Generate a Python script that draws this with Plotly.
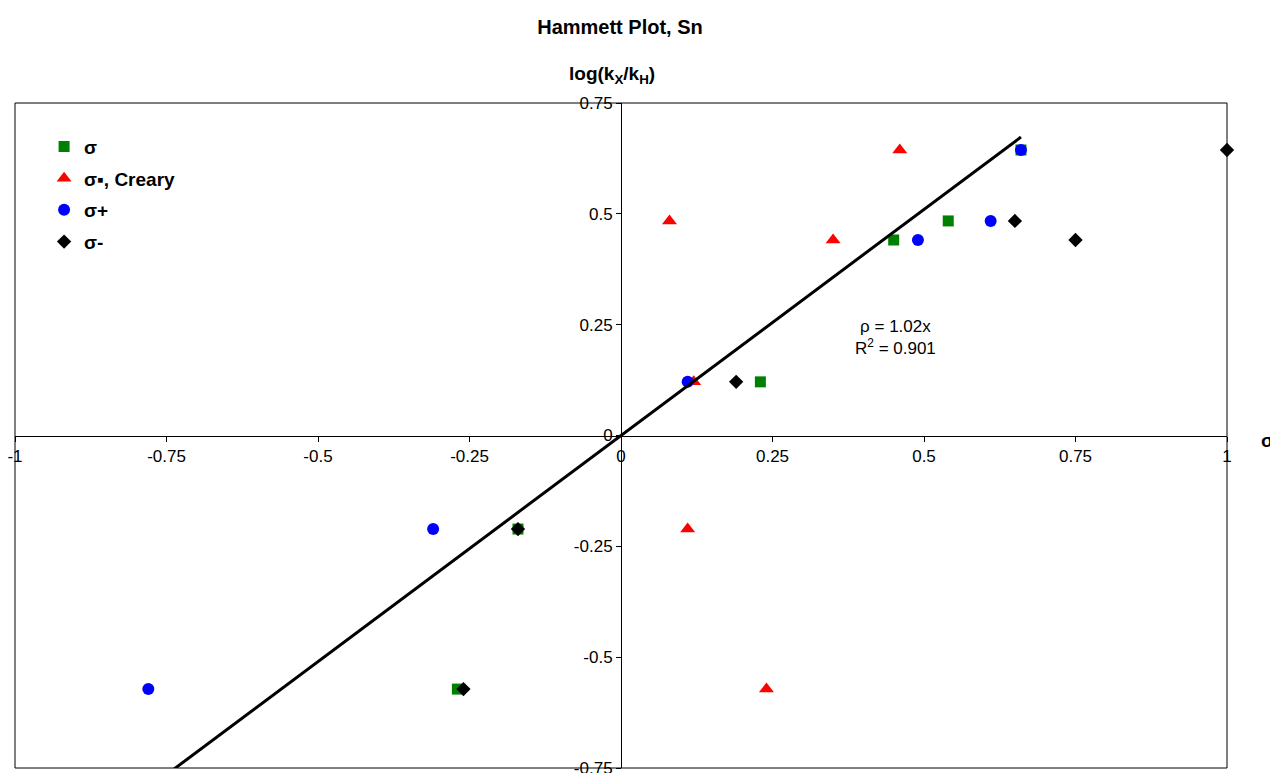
import plotly.graph_objects as go

# ---- data ----
sigma_x = [0.45, 0.54, 0.23, -0.17, -0.27, 0.66]
sigma_y = [0.441, 0.484, 0.121, -0.211, -0.572, 0.644]

creary_x = [0.08, 0.46, 0.35, 0.12, 0.11, 0.24]
creary_y = [0.484, 0.644, 0.441, 0.121, -0.211, -0.572]

splus_x = [-0.78, -0.31, 0.11, 0.49, 0.61, 0.66]
splus_y = [-0.572, -0.211, 0.121, 0.441, 0.484, 0.644]

sminus_x = [-0.26, -0.17, 0.19, 0.65, 0.75, 1.0]
sminus_y = [-0.572, -0.211, 0.121, 0.484, 0.441, 0.644]

trend_slope = 1.02
trend_x = [-0.8, 0.66]
trend_y = [trend_slope * v for v in trend_x]

x_tickvals = [-1, -0.75, -0.5, -0.25, 0, 0.25, 0.5, 0.75, 1]
x_ticktext = ["-1", "-0.75", "-0.5", "-0.25", "0", "0.25", "0.5", "0.75", "1"]
y_tickvals = [-0.75, -0.5, -0.25, 0, 0.25, 0.5, 0.75]
y_ticktext = ["-0.75", "-0.5", "-0.25", "0", "0.25", "0.5", "0.75"]

FONT = "Liberation Sans, Arial, sans-serif"

fig = go.Figure()

fig.add_trace(go.Scatter(x=sigma_x, y=sigma_y, mode="markers", name="σ",
                         legendgroup="a",
                         marker=dict(symbol="square", size=11, color="#008000"),
                         cliponaxis=False))
fig.add_trace(go.Scatter(x=creary_x, y=creary_y, mode="markers", name="σ▪, Creary",
                         legendgroup="b",
                         marker=dict(symbol="triangle-up", size=13, color="#FF0000"),
                         cliponaxis=False))
fig.add_trace(go.Scatter(x=splus_x, y=splus_y, mode="markers", name="σ+",
                         legendgroup="c",
                         marker=dict(symbol="circle", size=12, color="#0000FF"),
                         cliponaxis=False))
fig.add_trace(go.Scatter(x=sminus_x, y=sminus_y, mode="markers", name="σ-",
                         legendgroup="d",
                         marker=dict(symbol="diamond", size=11, color="#000000"),
                         cliponaxis=False))
fig.add_trace(go.Scatter(x=trend_x, y=trend_y, mode="lines", showlegend=False,
                         line=dict(color="#000000", width=3), hoverinfo="skip"))

axis_common = dict(
    showgrid=False, zeroline=False, showline=True, linecolor="black", linewidth=1,
    ticks="outside", ticklen=5, tickcolor="black", tickwidth=1,
    tickfont=dict(family=FONT, size=17, color="black"),
    anchor="free", position=0.5, automargin=False, ticklabeloverflow="allow",
)

fig.update_layout(
    width=1270, height=773,
    margin=dict(l=15, r=43, t=103, b=5),
    paper_bgcolor="white", plot_bgcolor="white",
    font=dict(family=FONT, color="black"),
    title=dict(text="<b>Hammett Plot, Sn</b>", x=620 / 1270, xanchor="center",
               y=1 - 27 / 773, yanchor="middle", font=dict(size=20, family=FONT)),
    xaxis=dict(range=[-1, 1], tickvals=x_tickvals, ticktext=x_ticktext, **axis_common),
    yaxis=dict(range=[-0.75, 0.75], tickvals=y_tickvals, ticktext=y_ticktext, **axis_common),
    legend=dict(x=0.024, y=0.963, xanchor="left", yanchor="top",
                bgcolor="rgba(0,0,0,0)", tracegroupgap=4,
                font=dict(family=FONT, size=19, color="black", weight="bold")),
    showlegend=True,
    shapes=[dict(type="rect", xref="paper", yref="paper", x0=0, y0=0, x1=1, y1=1,
                 line=dict(color="black", width=1), fillcolor="rgba(0,0,0,0)", layer="below")],
    annotations=[
        dict(text="<b>log(k<sub>X</sub>/k<sub>H</sub>)</b>", xref="paper", yref="paper",
             x=(612 - 15) / 1212, y=(768 - 75) / 665, xanchor="center", yanchor="middle",
             showarrow=False, font=dict(size=19, family=FONT)),
        dict(text="<b>σ</b>", xref="paper", yref="paper",
             x=(1259 - 15) / 1212, y=(768 - 440) / 665, xanchor="left", yanchor="middle",
             showarrow=False, font=dict(size=19, family=FONT)),
        dict(text="ρ = 1.02x<br>R<sup>2</sup> = 0.901", xref="paper", yref="paper",
             x=(895 - 15) / 1212, y=(768 - 337) / 665, xanchor="center", yanchor="middle",
             showarrow=False, font=dict(size=17, family=FONT)),
    ],
)

fig.write_html("out.html", config={"displayModeBar": False},
               post_script="document.body.style.margin='0';document.body.style.overflow='hidden';")
